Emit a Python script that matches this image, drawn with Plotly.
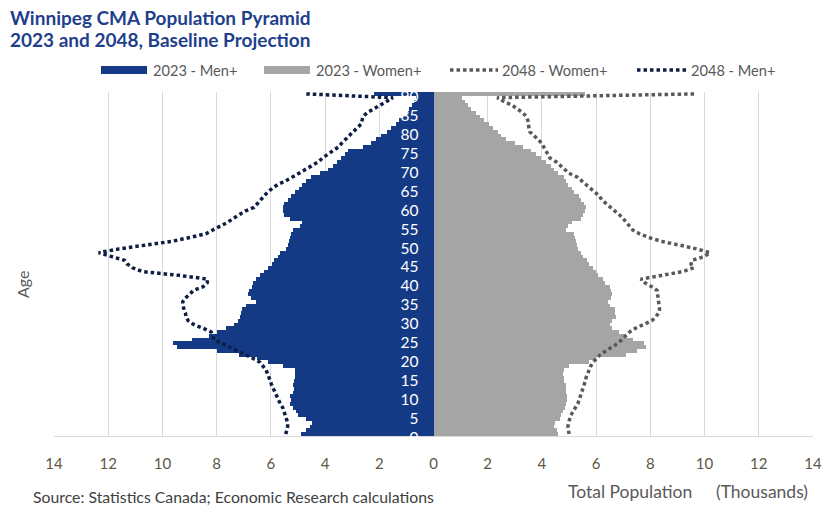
import plotly.graph_objects as go

ages = list(range(0, 91))

men_2023 = [4.88, 4.70, 4.55, 4.48, 4.70, 5.00, 5.07, 5.20, 5.30, 5.25,
            5.28, 5.20, 5.13, 5.17, 5.13, 5.10, 5.10, 5.10, 5.55, 6.12,
            6.50, 7.16, 7.98, 9.45, 9.60, 8.90, 8.30, 8.00, 7.65, 7.35,
            7.20, 7.15, 7.10, 7.05, 6.90, 6.55, 6.75, 6.85, 6.80, 6.70,
            6.65, 6.55, 6.40, 6.25, 6.10, 5.95, 5.87, 5.75, 5.68, 5.45,
            5.38, 5.34, 5.30, 5.25, 5.20, 4.92, 4.85, 5.30, 5.50, 5.56,
            5.56, 5.50, 5.38, 5.25, 5.10, 4.95, 4.85, 4.70, 4.52, 4.20,
            3.90, 3.70, 3.55, 3.42, 3.28, 3.15, 2.60, 2.30, 2.12, 1.93,
            1.72, 1.56, 1.40, 1.26, 1.11, 0.99, 0.89, 0.79, 0.72, 0.64,
            2.20]

women_2023 = [4.60, 4.55, 4.45, 4.50, 4.65, 4.70, 4.77, 4.85, 4.90, 4.92,
              4.92, 4.90, 4.88, 4.87, 4.83, 4.80, 4.77, 4.83, 5.00, 5.75,
              6.00, 7.10, 7.50, 7.85, 7.75, 7.36, 7.10, 6.86, 6.60, 6.50,
              6.60, 6.74, 6.70, 6.68, 6.50, 6.43, 6.55, 6.60, 6.56, 6.50,
              6.31, 6.25, 6.05, 6.00, 5.88, 5.75, 5.65, 5.50, 5.45, 5.33,
              5.28, 5.26, 5.22, 5.17, 4.90, 4.95, 5.10, 5.45, 5.53, 5.60,
              5.61, 5.57, 5.45, 5.35, 5.20, 5.10, 4.95, 4.90, 4.80, 4.60,
              4.45, 4.34, 4.16, 3.95, 3.79, 3.60, 3.30, 3.00, 2.68, 2.50,
              2.37, 2.19, 2.04, 1.85, 1.70, 1.55, 1.40, 1.27, 1.15, 1.05,
              5.60]

men_2048 = [5.45, 5.40, 5.38, 5.38, 5.42, 5.45, 5.50, 5.56, 5.65, 5.72,
            5.78, 5.85, 5.92, 5.97, 6.02, 6.06, 6.12, 6.18, 6.28, 6.40,
            6.65, 6.95, 7.25, 7.50, 7.80, 8.10, 8.15, 8.20, 8.50, 8.85,
            9.05, 9.13, 9.15, 9.20, 9.25, 9.25, 9.15, 9.00, 8.85, 8.50,
            8.35, 8.33, 9.40, 10.75, 11.10, 11.30, 11.40, 11.90, 12.35, 11.60,
            10.50, 9.65, 9.00, 8.40, 8.14, 7.85, 7.60, 7.40, 7.20, 6.95,
            6.62, 6.50, 6.40, 6.25, 6.12, 5.95, 5.75, 5.45, 5.20, 4.95,
            4.70, 4.45, 4.25, 4.10, 3.90, 3.65, 3.50, 3.38, 3.25, 3.10,
            2.98, 2.82, 2.67, 2.64, 2.60, 2.45, 2.20, 1.95, 1.75, 1.50,
            4.70]

women_2048 = [5.00, 4.97, 4.96, 4.98, 5.02, 5.07, 5.15, 5.25, 5.32, 5.37,
              5.42, 5.47, 5.50, 5.55, 5.60, 5.63, 5.68, 5.75, 5.80, 5.88,
              6.00, 6.15, 6.35, 6.60, 6.80, 6.95, 7.10, 7.23, 7.45, 7.75,
              8.05, 8.20, 8.30, 8.34, 8.32, 8.30, 8.28, 8.28, 8.25, 8.05,
              7.80, 7.65, 8.50, 9.20, 9.60, 9.50, 9.55, 10.00, 10.20, 9.70,
              9.08, 8.40, 7.95, 7.60, 7.35, 7.23, 7.15, 7.00, 6.86, 6.70,
              6.50, 6.35, 6.20, 6.12, 5.95, 5.76, 5.60, 5.45, 5.30, 5.00,
              4.85, 4.70, 4.53, 4.30, 4.22, 4.15, 4.08, 3.98, 3.85, 3.70,
              3.55, 3.52, 3.50, 3.48, 3.42, 3.30, 3.10, 2.90, 2.60, 2.35,
              9.70]

x_ticks = [-14, -12, -10, -8, -6, -4, -2, 0, 2, 4, 6, 8, 10, 12, 14]
x_tick_text = [str(abs(v)) for v in x_ticks]
age_ticks = list(range(0, 91, 5))

legend_names = ["2023 - Men+", "2023 - Women+", "2048 - Women+", "2048 - Men+"]

C_MEN = "#143A86"
C_WOMEN = "#A5A5A5"
C_W48 = "#595959"
C_M48 = "#0E1E42"
FONT = "Lato"

W, H = 835, 514
ML, MR, MT, MB = 54, 22, 92, 78
PW, PH = W - ML - MR, H - MT - MB


def px_x(px):
    return (px - ML) / PW


def px_y(py):
    return (H - MB - py) / PH


fig = go.Figure()

fig.add_trace(go.Bar(y=ages, x=[-v for v in men_2023], orientation="h",
                     marker=dict(color=C_MEN, line=dict(width=0)),
                     name=legend_names[0], showlegend=False))
fig.add_trace(go.Bar(y=ages, x=women_2023, orientation="h",
                     marker=dict(color=C_WOMEN, line=dict(width=0)),
                     name=legend_names[1], showlegend=False))
fig.add_trace(go.Scatter(y=ages, x=women_2048, mode="lines",
                         line=dict(color=C_W48, width=3.5, dash="3.5px,3px"),
                         name=legend_names[2], showlegend=False))
fig.add_trace(go.Scatter(y=ages, x=[-v for v in men_2048], mode="lines",
                         line=dict(color=C_M48, width=3.5, dash="3.5px,3px"),
                         name=legend_names[3], showlegend=False))

# Manual legend: (swatch start px, swatch width, text start px, colour, kind)
leg_y = 70
leg_items = [(101, 46, 152, C_MEN, "bar"), (264, 46, 315, C_WOMEN, "bar"),
             (450, 48, 501, C_W48, "dot"), (637, 50, 690, C_M48, "dot")]
shapes = []
annotations = []
for (x0, sw, tx, col, kind), name in zip(leg_items, legend_names):
    if kind == "bar":
        shapes.append(dict(type="rect", xref="paper", yref="paper",
                           x0=px_x(x0), x1=px_x(x0 + sw), y0=px_y(leg_y + 4), y1=px_y(leg_y - 4),
                           fillcolor=col, line=dict(width=0), layer="above"))
    else:
        shapes.append(dict(type="line", xref="paper", yref="paper",
                           x0=px_x(x0), x1=px_x(x0 + sw), y0=px_y(leg_y), y1=px_y(leg_y),
                           line=dict(color=col, width=3.5, dash="3.5px,3px"), layer="above"))
    annotations.append(dict(text=name, x=px_x(tx - 1), xref="paper", xanchor="left",
                            y=px_y(leg_y), yref="paper", yanchor="middle", showarrow=False,
                            font=dict(family=FONT, size=14.6, color="#595959")))

annotations += [
    dict(text="<b>Winnipeg CMA Population Pyramid</b>", x=px_x(8), xref="paper", xanchor="left",
         y=px_y(17), yref="paper", yanchor="middle", showarrow=False,
         font=dict(family=FONT, size=19, color="#1F3F8C")),
    dict(text="<b>2023 and 2048, Baseline Projection</b>", x=px_x(8), xref="paper", xanchor="left",
         y=px_y(40), yref="paper", yanchor="middle", showarrow=False,
         font=dict(family=FONT, size=19, color="#1F3F8C")),
    dict(text="Age", x=px_x(22), xref="paper", xanchor="center",
         y=px_y(285), yref="paper", yanchor="middle", textangle=-90, showarrow=False,
         font=dict(family=FONT, size=16, color="#595959")),
    dict(text="Source: Statistics Canada; Economic Research calculations",
         x=px_x(31), xref="paper", xanchor="left", y=px_y(496), yref="paper", yanchor="middle",
         showarrow=False, font=dict(family=FONT, size=15.8, color="#404040")),
    dict(text="Total Population", x=px_x(566), xref="paper", xanchor="left",
         y=px_y(491), yref="paper", yanchor="middle",
         showarrow=False, font=dict(family=FONT, size=17.5, color="#595959")),
    dict(text="(Thousands)", x=px_x(810), xref="paper", xanchor="right",
         y=px_y(491), yref="paper", yanchor="middle",
         showarrow=False, font=dict(family=FONT, size=17.5, color="#595959")),
]

fig.update_layout(
    width=W, height=H,
    margin=dict(l=ML, r=MR, t=MT, b=MB, autoexpand=False),
    paper_bgcolor="white", plot_bgcolor="white",
    barmode="relative", bargap=0,
    showlegend=False,
    font=dict(family=FONT, color="#595959", size=14),
    xaxis=dict(range=[-14, 14], tickvals=x_ticks, ticktext=x_tick_text,
               showgrid=True, gridcolor="#D9D9D9", gridwidth=1,
               zeroline=False, showline=True, linecolor="#D9D9D9",
               ticks="", tickfont=dict(family=FONT, size=15, color="#5E5646"),
               ticklabelstandoff=14, fixedrange=True),
    yaxis=dict(range=[-0.5, 90.5], tickvals=age_ticks, ticktext=[str(a) for a in age_ticks],
               anchor="free", position=0.5, side="left",
               showgrid=False, zeroline=False, showline=False, ticks="",
               tickfont=dict(family=FONT, size=15.5, color="white"),
               ticklabelstandoff=15, ticklabelshift=3, fixedrange=True),
    shapes=shapes,
    annotations=annotations,
)

fig.write_html("out.html", config={"displayModeBar": False},
               post_script="document.body.style.margin='0';")
